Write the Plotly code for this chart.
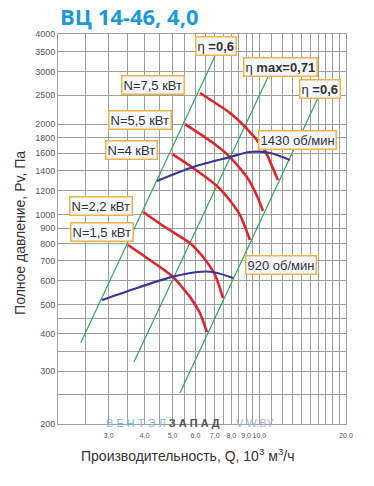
import numpy as np
import plotly.graph_objects as go

# ---- data ----
fan_1430_q = [4.41, 5.89, 7.91, 9.28, 10.89, 12.78]
fan_1430_p = [1293, 1440, 1554, 1616, 1603, 1520]
fan_920_q = [2.84, 3.85, 4.98, 6.08, 6.90, 8.11]
fan_920_p = [518, 573, 619, 643, 643, 614]

n75_q = [6.22, 7.91, 9.28, 10.47, 11.6]
n75_p = [2542, 2180, 1884, 1628, 1302]
n55_q = [5.52, 6.85, 7.91, 9.06, 9.89, 10.3]
n55_p = [2003, 1744, 1554, 1333, 1135, 1027]
n40_q = [4.98, 5.89, 7.13, 7.78, 8.57, 9.28]
n40_p = [1592, 1429, 1244, 1135, 996, 822]
n22_q = [3.95, 4.70, 5.75, 6.38, 7.02, 7.48]
n22_p = [1019, 908, 802, 721, 628, 526]
n15_q = [3.50, 4.17, 4.98, 5.75, 6.22, 6.58]
n15_p = [791, 705, 623, 530, 469, 405]

eta_left_q = [2.40, 7.02]
eta_left_p = [373, 3376]
eta_max_q = [3.67, 10.72]
eta_max_p = [322, 2874]
eta_right_q = [5.30, 15.98]
eta_right_p = [254, 2446]

x_grid = [2.0, 2.5, 3.0, 3.5, 4.0, 4.5, 5.0, 5.5, 6.0, 6.5, 7.0, 7.5, 8.0, 8.5, 9.0, 9.5,
          10, 11, 12, 13, 14, 15, 16, 17, 18, 19, 20]
x_labels = {3.0: "3,0", 4.0: "4,0", 5.0: "5,0", 6.0: "6,0", 7.0: "7,0", 8.0: "8,0",
            9.0: "9,0", 10: "10,0", 20: "20,0"}
y_grid = [200, 250, 300, 350, 400, 450, 500, 600, 700, 800, 900, 1000, 1200, 1400,
          1600, 1800, 2000, 2500, 3000, 3500, 4000]
y_labels = [200, 300, 400, 500, 600, 700, 800, 900, 1000, 1200, 1400, 1600, 1800,
            2000, 2500, 3000, 3500, 4000]

labels_text = ["η <b>=0,6</b>", "η <b>max=0,71</b>", "η <b>=0,6</b>",
               "N=7,5 кВт", "N=5,5 кВт", "N=4 кВт", "N=2,2 кВт", "N=1,5 кВт",
               "1430 об/мин", "920 об/мин"]
labels_q = [7.07, 11.8, 16.3, 4.27, 3.85, 3.61, 2.82, 2.84, 13.6, 11.9]
labels_p = [3654, 3100, 2621, 2699, 2066, 1640, 1068, 874, 1772, 678]

RED = "#e3232b"
BLUE = "#3a3597"
GREEN = "#2fa65a"
GRID = "#9e9e9e"

fig = go.Figure()

for q, p in [(eta_left_q, eta_left_p), (eta_max_q, eta_max_p), (eta_right_q, eta_right_p)]:
    fig.add_trace(go.Scatter(x=q, y=p, mode="lines", line=dict(color=GREEN, width=1.2),
                             hoverinfo="skip"))
for q, p in [(n75_q, n75_p), (n55_q, n55_p), (n40_q, n40_p), (n22_q, n22_p), (n15_q, n15_p)]:
    fig.add_trace(go.Scatter(x=q, y=p, mode="lines",
                             line=dict(color=RED, width=2.6, shape="spline", smoothing=0.6)))
for q, p in [(fan_1430_q, fan_1430_p), (fan_920_q, fan_920_p)]:
    fig.add_trace(go.Scatter(x=q, y=p, mode="lines",
                             line=dict(color=BLUE, width=2.2, shape="spline", smoothing=0.8)))

annotations = []
for t, q, p in zip(labels_text, labels_q, labels_p):
    annotations.append(dict(x=np.log10(q), y=np.log10(p), xref="x", yref="y", text=t,
                            showarrow=False, font=dict(size=13, color="#333333",
                                                       family="Liberation Sans, Arial"),
                            bgcolor="#f6f9fd", bordercolor="#f0b347", borderwidth=1.5,
                            borderpad=1))
# title
annotations.append(dict(x=0.0, y=1.0, xref="paper", yref="paper", xanchor="left",
                        yanchor="middle", yshift=18, text="<b>ВЦ 14-46, 4,0</b>",
                        showarrow=False,
                        font=dict(size=22, color="#1b9ad8", family="Open Sans, Liberation Sans")))
# watermark
annotations.append(dict(x=np.log10(2.9), y=0.0, xref="x", yref="paper", xanchor="left",
                        yanchor="middle", yshift=1,
                        text="<span style='color:#7ab8e6'>В Е Н Т Э Л </span>"
                             "<span style='color:#555555'><b>З А П А Д</b></span>",
                        showarrow=False, font=dict(size=11, family="Liberation Sans")))
annotations.append(dict(x=np.log10(8.2), y=0.0, xref="x", yref="paper", xanchor="left",
                        yanchor="middle", yshift=1, text="V-W.BY", showarrow=False,
                        font=dict(size=11, color="#a9b4c8", family="Liberation Sans")))
# axis titles
annotations.append(dict(x=0.45, y=0.0, xref="paper", yref="paper", xanchor="center",
                        yanchor="middle", yshift=-31,
                        text="Производительность, Q, 10<sup>3</sup> м<sup>3</sup>/ч",
                        showarrow=False, font=dict(size=14, color="#333333")))
annotations.append(dict(x=0.0, y=0.49, xref="paper", yref="paper", xanchor="center",
                        yanchor="middle", xshift=-38, textangle=-90,
                        text="Полное давление, Pv, Па",
                        showarrow=False, font=dict(size=14, color="#333333")))

fig.update_layout(
    width=374, height=486,
    margin=dict(l=58, r=28, t=34, b=62),
    plot_bgcolor="white", paper_bgcolor="white",
    showlegend=False,
    annotations=annotations,
    font=dict(family="Liberation Sans, Arial", color="#444444"),
)
fig.update_xaxes(
    type="log", range=[np.log10(2), np.log10(20)], automargin=False,
    tickvals=x_grid, ticktext=[x_labels.get(v, "") for v in x_grid], tickangle=0,
    ticklabelstandoff=5,
    showgrid=True, gridcolor=GRID, gridwidth=1,
    showline=True, linecolor=GRID, mirror=True,
    ticks="", tickfont=dict(size=7, color="#555555", family="Liberation Sans Narrow, Liberation Sans"),
    zeroline=False,
)
fig.update_yaxes(
    type="log", range=[np.log10(200), np.log10(4000)], automargin=False,
    tickvals=y_grid, ticktext=[str(v) if v in y_labels else "" for v in y_grid],
    showgrid=True, gridcolor=GRID, gridwidth=1,
    showline=True, linecolor=GRID, mirror=True,
    ticks="", tickfont=dict(size=9, color="#555555"),
    zeroline=False,
)

fig.write_html("out.html", config={"displayModeBar": False},
               post_script="document.body.style.margin='0px';")
